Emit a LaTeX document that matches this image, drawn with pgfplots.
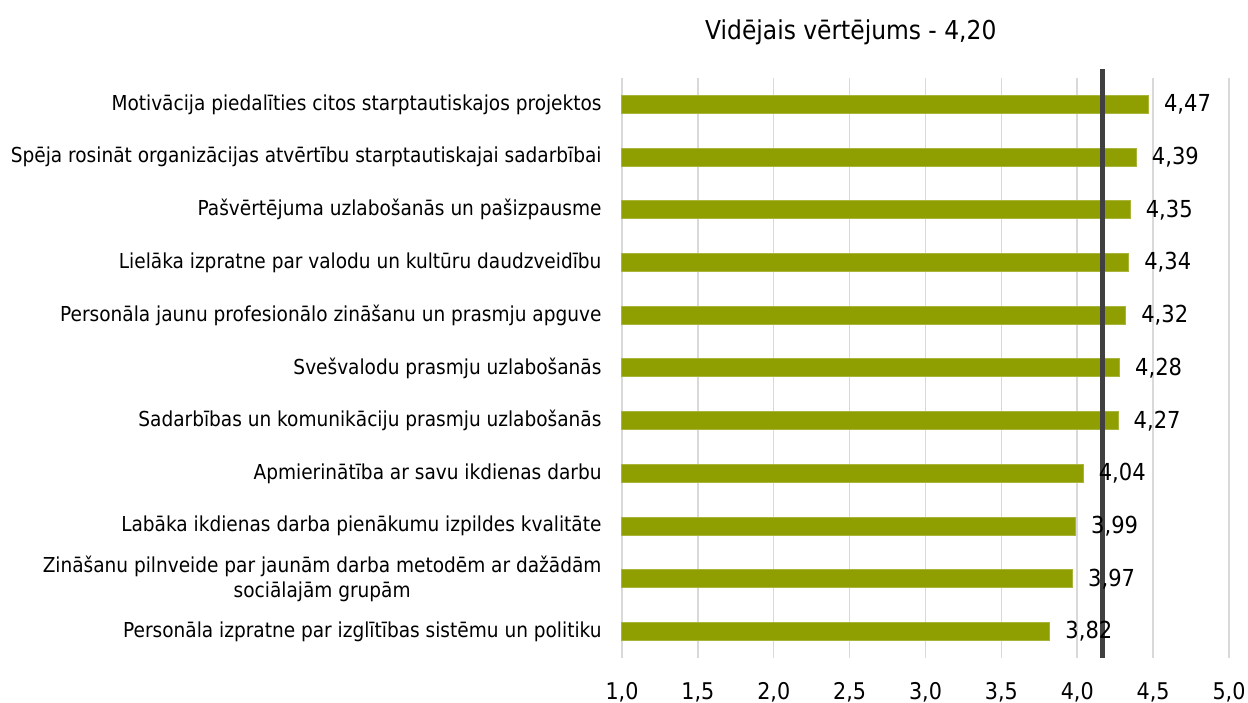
\documentclass[border=0pt]{standalone}
\usepackage{fontspec}
\setmainfont{DejaVu Sans Condensed}
\usepackage{pgfplots}
\pgfplotsset{compat=1.18}
\definecolor{barolive}{HTML}{8F9E00}
\definecolor{baredge}{HTML}{A8B43A}
\definecolor{gridgray}{HTML}{D9D9D9}
\definecolor{avgline}{HTML}{404040}
\begin{document}
\begin{tikzpicture}
\begin{axis}[
  scale only axis,
  width=303.5pt, height=290pt,
  xmin=1, xmax=5,
  ymin=-0.5, ymax=10.5,
  axis line style={draw=none},
  xtick={1,1.5,...,5},
  ytick={0,...,10},
  major tick length=0pt,
  xmajorgrids, grid style={gridgray, line width=0.75pt},
  /pgf/number format/assume math mode=true,
  xticklabel style={/pgf/number format/fixed, /pgf/number format/fixed zerofill, /pgf/number format/precision=1, /pgf/number format/use comma},
  xticklabel style={font=\fontsize{11.5}{13}\selectfont, inner sep=0pt, yshift=-12pt},
  yticklabel style={font=\fontsize{10.3}{12.5}\selectfont, inner sep=0pt, align=center, xshift=-10pt},
  yticklabels={
    Personāla izpratne par izglītības sistēmu un politiku,
    {Zināšanu pilnveide par jaunām darba metodēm ar dažādām\\sociālajām grupām},
    Labāka ikdienas darba pienākumu izpildes kvalitāte,
    Apmierinātība ar savu ikdienas darbu,
    Sadarbības un komunikāciju prasmju uzlabošanās,
    Svešvalodu prasmju uzlabošanās,
    Personāla jaunu profesionālo zināšanu un prasmju apguve,
    Lielāka izpratne par valodu un kultūru daudzveidību,
    Pašvērtējuma uzlabošanās un pašizpausme,
    Spēja rosināt organizācijas atvērtību starptautiskajai sadarbībai,
    Motivācija piedalīties citos starptautiskajos projektos},
  clip=false,
]
\addplot[xbar, bar width=9pt, fill=barolive, draw=baredge, line width=0.5pt,
  nodes near coords,
  every node near coord/.append style={font=\fontsize{11.7}{13}\selectfont, anchor=west, inner sep=0pt, xshift=7.5pt, black,
    /pgf/number format/fixed, /pgf/number format/fixed zerofill, /pgf/number format/precision=2, /pgf/number format/use comma}
] coordinates {
  (3.82,0) (3.97,1) (3.99,2) (4.04,3) (4.27,4) (4.28,5) (4.32,6) (4.34,7) (4.35,8) (4.39,9) (4.47,10)
};
\addplot[sharp plot, avgline, line width=2.5pt, mark=none] coordinates {(4.165,-0.5) (4.165,10.68)};
\node[font=\fontsize{13}{15}\selectfont, anchor=center] at ([yshift=23pt]rel axis cs:0.377,1) {Vidējais vērtējums - 4,20};
\path (rel axis cs:0,1) ++(-311pt,39pt) coordinate (tl);
\end{axis}
\path (tl) rectangle ++(624pt,-351pt);
\end{tikzpicture}
\end{document}
